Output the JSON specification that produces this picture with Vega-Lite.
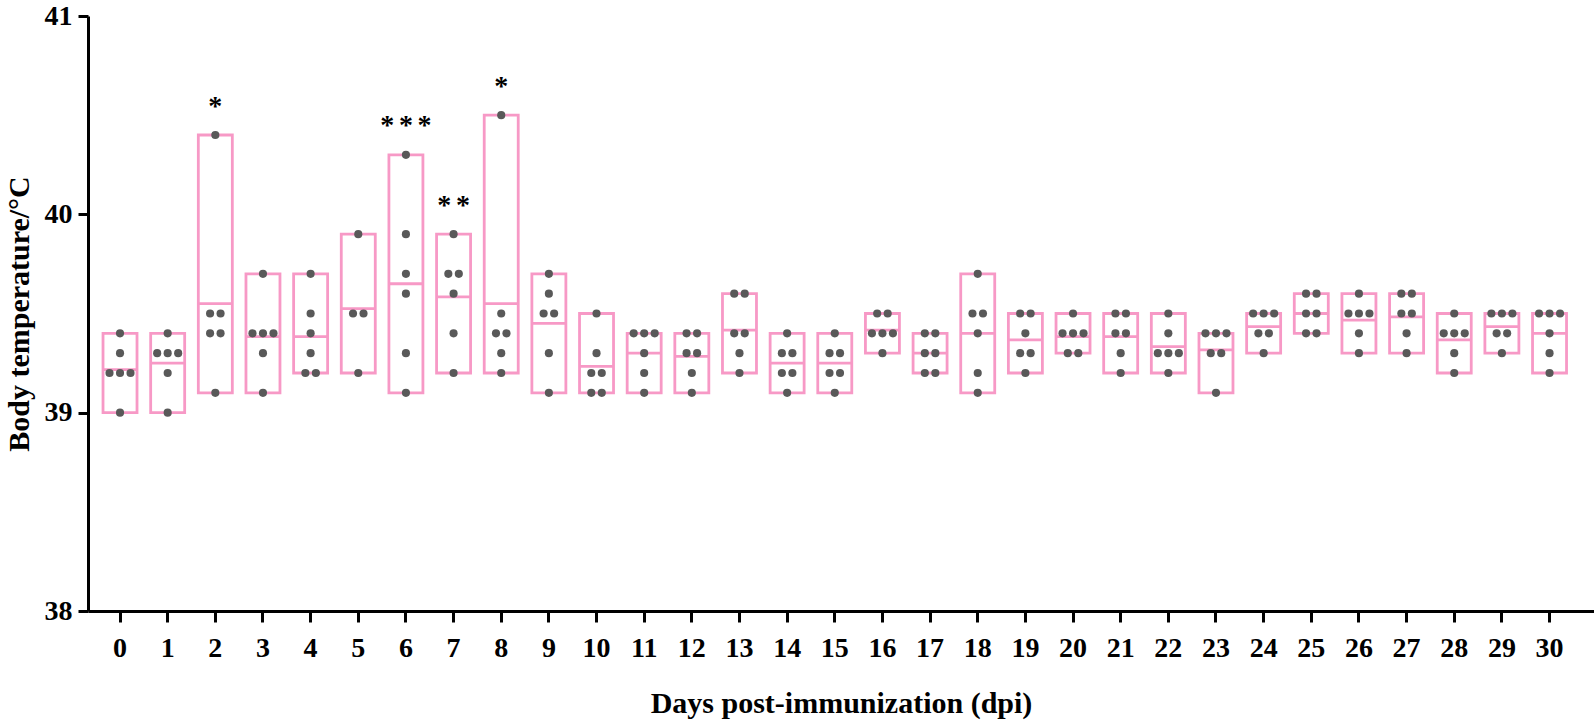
{
  "$schema": "https://vega.github.io/schema/vega-lite/v6.json",
  "autosize": "none",
  "width": 1506,
  "height": 595,
  "padding": {"left": 88, "top": 16, "right": 0, "bottom": 111},
  "background": "white",
  "config": {
    "font": "Liberation Serif",
    "view": {"stroke": null}
  },
  "datasets": {
    "temps": [
      {"day": 0, "t": 39.4}, {"day": 0, "t": 39.3}, {"day": 0, "t": 39.2}, {"day": 0, "t": 39.2}, {"day": 0, "t": 39.2}, {"day": 0, "t": 39.0},
      {"day": 1, "t": 39.4}, {"day": 1, "t": 39.3}, {"day": 1, "t": 39.3}, {"day": 1, "t": 39.3}, {"day": 1, "t": 39.2}, {"day": 1, "t": 39.0},
      {"day": 2, "t": 40.4}, {"day": 2, "t": 39.5}, {"day": 2, "t": 39.5}, {"day": 2, "t": 39.4}, {"day": 2, "t": 39.4}, {"day": 2, "t": 39.1},
      {"day": 3, "t": 39.7}, {"day": 3, "t": 39.4}, {"day": 3, "t": 39.4}, {"day": 3, "t": 39.4}, {"day": 3, "t": 39.3}, {"day": 3, "t": 39.1},
      {"day": 4, "t": 39.7}, {"day": 4, "t": 39.5}, {"day": 4, "t": 39.4}, {"day": 4, "t": 39.3}, {"day": 4, "t": 39.2}, {"day": 4, "t": 39.2},
      {"day": 5, "t": 39.9}, {"day": 5, "t": 39.5}, {"day": 5, "t": 39.5}, {"day": 5, "t": 39.2},
      {"day": 6, "t": 40.3}, {"day": 6, "t": 39.9}, {"day": 6, "t": 39.7}, {"day": 6, "t": 39.6}, {"day": 6, "t": 39.3}, {"day": 6, "t": 39.1},
      {"day": 7, "t": 39.9}, {"day": 7, "t": 39.7}, {"day": 7, "t": 39.7}, {"day": 7, "t": 39.6}, {"day": 7, "t": 39.4}, {"day": 7, "t": 39.2},
      {"day": 8, "t": 40.5}, {"day": 8, "t": 39.5}, {"day": 8, "t": 39.4}, {"day": 8, "t": 39.4}, {"day": 8, "t": 39.3}, {"day": 8, "t": 39.2},
      {"day": 9, "t": 39.7}, {"day": 9, "t": 39.6}, {"day": 9, "t": 39.5}, {"day": 9, "t": 39.5}, {"day": 9, "t": 39.3}, {"day": 9, "t": 39.1},
      {"day": 10, "t": 39.5}, {"day": 10, "t": 39.3}, {"day": 10, "t": 39.2}, {"day": 10, "t": 39.2}, {"day": 10, "t": 39.1}, {"day": 10, "t": 39.1},
      {"day": 11, "t": 39.4}, {"day": 11, "t": 39.4}, {"day": 11, "t": 39.4}, {"day": 11, "t": 39.3}, {"day": 11, "t": 39.2}, {"day": 11, "t": 39.1},
      {"day": 12, "t": 39.4}, {"day": 12, "t": 39.4}, {"day": 12, "t": 39.3}, {"day": 12, "t": 39.3}, {"day": 12, "t": 39.2}, {"day": 12, "t": 39.1},
      {"day": 13, "t": 39.6}, {"day": 13, "t": 39.6}, {"day": 13, "t": 39.4}, {"day": 13, "t": 39.4}, {"day": 13, "t": 39.3}, {"day": 13, "t": 39.2},
      {"day": 14, "t": 39.4}, {"day": 14, "t": 39.3}, {"day": 14, "t": 39.3}, {"day": 14, "t": 39.2}, {"day": 14, "t": 39.2}, {"day": 14, "t": 39.1},
      {"day": 15, "t": 39.4}, {"day": 15, "t": 39.3}, {"day": 15, "t": 39.3}, {"day": 15, "t": 39.2}, {"day": 15, "t": 39.2}, {"day": 15, "t": 39.1},
      {"day": 16, "t": 39.5}, {"day": 16, "t": 39.5}, {"day": 16, "t": 39.4}, {"day": 16, "t": 39.4}, {"day": 16, "t": 39.4}, {"day": 16, "t": 39.3},
      {"day": 17, "t": 39.4}, {"day": 17, "t": 39.4}, {"day": 17, "t": 39.3}, {"day": 17, "t": 39.3}, {"day": 17, "t": 39.2}, {"day": 17, "t": 39.2},
      {"day": 18, "t": 39.7}, {"day": 18, "t": 39.5}, {"day": 18, "t": 39.5}, {"day": 18, "t": 39.4}, {"day": 18, "t": 39.2}, {"day": 18, "t": 39.1},
      {"day": 19, "t": 39.5}, {"day": 19, "t": 39.5}, {"day": 19, "t": 39.4}, {"day": 19, "t": 39.3}, {"day": 19, "t": 39.3}, {"day": 19, "t": 39.2},
      {"day": 20, "t": 39.5}, {"day": 20, "t": 39.4}, {"day": 20, "t": 39.4}, {"day": 20, "t": 39.4}, {"day": 20, "t": 39.3}, {"day": 20, "t": 39.3},
      {"day": 21, "t": 39.5}, {"day": 21, "t": 39.5}, {"day": 21, "t": 39.4}, {"day": 21, "t": 39.4}, {"day": 21, "t": 39.3}, {"day": 21, "t": 39.2},
      {"day": 22, "t": 39.5}, {"day": 22, "t": 39.4}, {"day": 22, "t": 39.3}, {"day": 22, "t": 39.3}, {"day": 22, "t": 39.3}, {"day": 22, "t": 39.2},
      {"day": 23, "t": 39.4}, {"day": 23, "t": 39.4}, {"day": 23, "t": 39.4}, {"day": 23, "t": 39.3}, {"day": 23, "t": 39.3}, {"day": 23, "t": 39.1},
      {"day": 24, "t": 39.5}, {"day": 24, "t": 39.5}, {"day": 24, "t": 39.5}, {"day": 24, "t": 39.4}, {"day": 24, "t": 39.4}, {"day": 24, "t": 39.3},
      {"day": 25, "t": 39.6}, {"day": 25, "t": 39.6}, {"day": 25, "t": 39.5}, {"day": 25, "t": 39.5}, {"day": 25, "t": 39.4}, {"day": 25, "t": 39.4},
      {"day": 26, "t": 39.6}, {"day": 26, "t": 39.5}, {"day": 26, "t": 39.5}, {"day": 26, "t": 39.5}, {"day": 26, "t": 39.4}, {"day": 26, "t": 39.3},
      {"day": 27, "t": 39.6}, {"day": 27, "t": 39.6}, {"day": 27, "t": 39.5}, {"day": 27, "t": 39.5}, {"day": 27, "t": 39.4}, {"day": 27, "t": 39.3},
      {"day": 28, "t": 39.5}, {"day": 28, "t": 39.4}, {"day": 28, "t": 39.4}, {"day": 28, "t": 39.4}, {"day": 28, "t": 39.3}, {"day": 28, "t": 39.2},
      {"day": 29, "t": 39.5}, {"day": 29, "t": 39.5}, {"day": 29, "t": 39.5}, {"day": 29, "t": 39.4}, {"day": 29, "t": 39.4}, {"day": 29, "t": 39.3},
      {"day": 30, "t": 39.5}, {"day": 30, "t": 39.5}, {"day": 30, "t": 39.5}, {"day": 30, "t": 39.4}, {"day": 30, "t": 39.3}, {"day": 30, "t": 39.2}
    ],
    "sig": [
      {"day": 2, "sig": "*"},
      {"day": 6, "sig": "*\u2006*\u2006*"},
      {"day": 7, "sig": "*\u2006*"},
      {"day": 8, "sig": "*"}
    ]
  },
  "encoding": {
    "x": {
      "field": "day",
      "type": "ordinal",
      "scale": {"paddingInner": 0.286, "paddingOuter": 0.4455, "align": 0.3535},
      "axis": {
        "title": "Days post-immunization (dpi)",
        "labelAngle": 0,
        "labelFont": "Liberation Serif",
        "labelFontWeight": "bold",
        "labelFontSize": 28,
        "labelColor": "black",
        "labelPadding": 12,
        "domainColor": "black",
        "domainWidth": 3,
        "tickColor": "black",
        "tickWidth": 3,
        "tickSize": 11,
        "titleFont": "Liberation Serif",
        "titleFontWeight": "bold",
        "titleFontSize": 30,
        "titleColor": "black",
        "titlePadding": 26,
        "grid": false
      }
    }
  },
  "layer": [
    {
      "data": {"name": "temps"},
      "transform": [
        {"aggregate": [{"op": "min", "field": "t", "as": "lo"}, {"op": "max", "field": "t", "as": "hi"}], "groupby": ["day"]}
      ],
      "mark": {"type": "bar", "fill": "white", "stroke": "#F799C6", "strokeWidth": 2.8, "width": 34},
      "encoding": {
        "y": {
          "field": "lo",
          "type": "quantitative",
          "scale": {"domain": [38, 41], "nice": false, "zero": false},
          "axis": {
            "title": "Body temperature/°C",
            "values": [38, 39, 40, 41],
            "format": "d",
            "labelFont": "Liberation Serif",
            "labelFontWeight": "bold",
            "labelFontSize": 28,
            "labelColor": "black",
            "labelPadding": 6,
            "domainColor": "black",
            "domainWidth": 3,
            "tickColor": "black",
            "tickWidth": 3,
            "tickSize": 10,
            "titleFont": "Liberation Serif",
            "titleFontWeight": "bold",
            "titleFontSize": 30,
            "titleColor": "black",
            "titlePadding": 10,
            "grid": false
          }
        },
        "y2": {"field": "hi"}
      }
    },
    {
      "data": {"name": "temps"},
      "transform": [
        {"aggregate": [{"op": "mean", "field": "t", "as": "m"}], "groupby": ["day"]}
      ],
      "mark": {"type": "tick", "orient": "horizontal", "color": "#F799C6", "size": 34, "thickness": 2.8, "opacity": 1},
      "encoding": {
        "y": {"field": "m", "type": "quantitative"}
      }
    },
    {
      "data": {"name": "temps"},
      "transform": [
        {"window": [{"op": "row_number", "as": "k"}, {"op": "count", "as": "n"}], "groupby": ["day", "t"], "frame": [null, null]},
        {"calculate": "datum.k - (datum.n + 1) / 2", "as": "slot"}
      ],
      "mark": {"type": "circle", "color": "#595959", "size": 66, "opacity": 1},
      "encoding": {
        "xOffset": {"field": "slot", "type": "quantitative", "scale": {"domain": [-1.62, 1.62]}},
        "y": {"field": "t", "type": "quantitative"}
      }
    },
    {
      "data": {"name": "temps"},
      "transform": [
        {"aggregate": [{"op": "max", "field": "t", "as": "hi"}], "groupby": ["day"]},
        {"lookup": "day", "from": {"data": {"name": "sig"}, "key": "day", "fields": ["sig"]}},
        {"filter": "datum.sig != null"}
      ],
      "mark": {"type": "text", "font": "Liberation Serif", "fontWeight": "bold", "fontSize": 28, "color": "black", "baseline": "alphabetic", "align": "center", "dy": -20.5},
      "encoding": {
        "y": {"field": "hi", "type": "quantitative"},
        "text": {"field": "sig"}
      }
    }
  ]
}
